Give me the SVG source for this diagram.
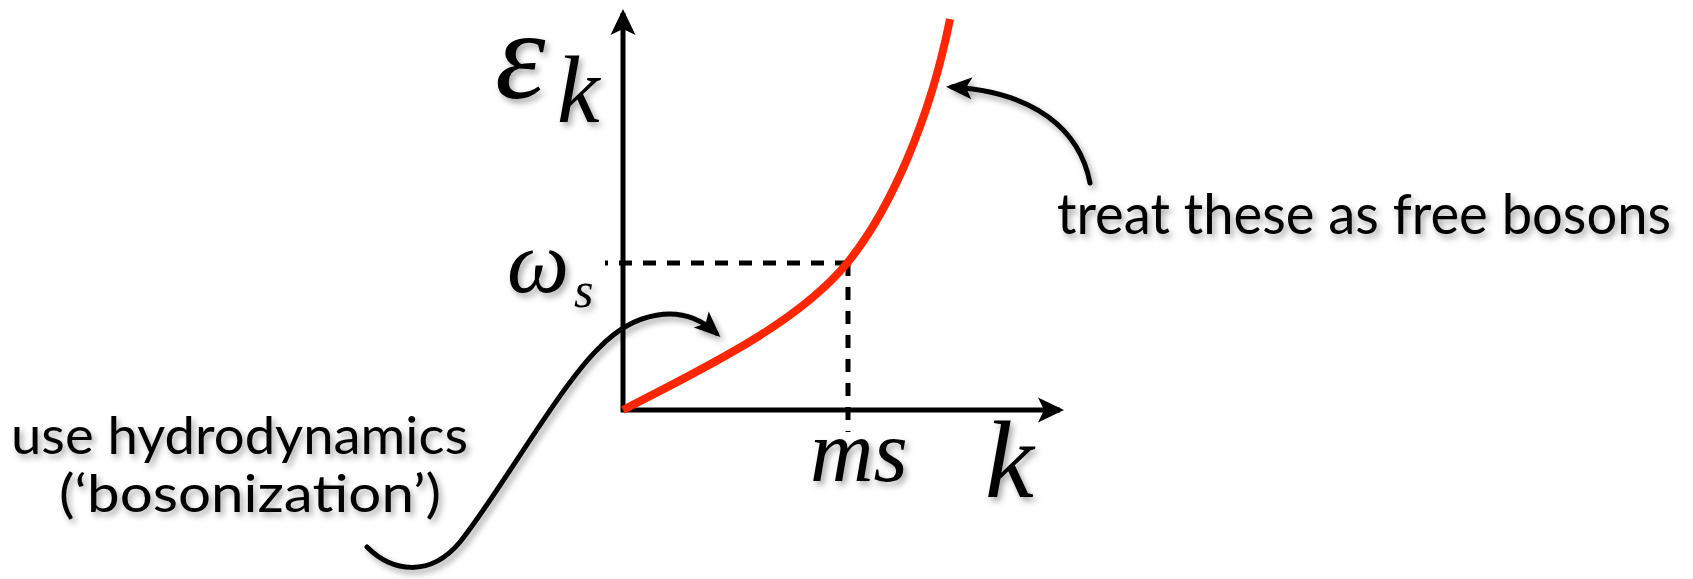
<svg xmlns="http://www.w3.org/2000/svg" width="1693" height="579" viewBox="0 0 1693 579">
<defs>
<filter id="sh" x="-10%" y="-10%" width="130%" height="140%">
<feDropShadow dx="3" dy="4" stdDeviation="3" flood-color="#000" flood-opacity="0.35"/>
</filter>
<marker id="ax" markerUnits="userSpaceOnUse" markerWidth="40" markerHeight="40" viewBox="-30 -20 40 40" refX="0" refY="0" orient="auto-start-reverse" overflow="visible">
<path d="M4,0 L-22,-12.5 L-16,0 L-22,12.5 Z" fill="#000"/>
</marker>
<marker id="ar" markerUnits="userSpaceOnUse" markerWidth="40" markerHeight="40" viewBox="-30 -20 40 40" refX="0" refY="0" orient="auto" overflow="visible">
<path d="M6,0 L-20,-11 L-14,0 L-20,11 Z" fill="#000"/>
</marker>
</defs>
<style>
.ax{fill:none;stroke:#000;stroke-width:5}
.dash{fill:none;stroke:#000;stroke-width:5;stroke-dasharray:13 11}
.cv{fill:none;stroke:#000;stroke-width:5;stroke-linecap:round}
.red{fill:none;stroke:#ff2600;stroke-width:8}
.lbl{font-family:Lato,"Open Sans","Liberation Sans",sans-serif;fill:#000}
.math{font-family:"Liberation Serif","DejaVu Serif",serif;font-style:italic;fill:#000}
</style>
<rect width="1693" height="579" fill="#fff"/>
<g id="axes">
<polyline class="ax" points="623,13 623,410 1060,410" marker-start="url(#ax)" marker-end="url(#ax)"/>
</g>
<g id="guides">
<line class="dash" x1="848" y1="263" x2="605" y2="263"/>
<line class="dash" x1="848" y1="263" x2="848" y2="432"/>
</g>
<g id="dispersion">
<path class="red" d="M623,410 C700,370 798,324 848,262 C890,210 930,120 950,19"/>
</g>
<g id="connectors" filter="url(#sh)">
<path class="cv" d="M367,547 C392,572 430,578 460,542 C500,492 560,385 600,347 C632,314 680,300 716,333" marker-end="url(#ar)"/>
<path class="cv" d="M1090,183 C1080,130 1035,92 952,87" marker-end="url(#ar)"/>
</g>
<g id="label-ek" filter="url(#sh)">
<text class="math" transform="translate(495,98) scale(1.28)" font-size="100">ε</text>
<text class="math" x="557" y="122" font-size="96">k</text>
</g>
<g id="label-ws" filter="url(#sh)">
<text class="math" x="507" y="292" font-size="88">ω</text>
<text class="math" x="574" y="307" font-size="50">s</text>
</g>
<g id="label-ms" filter="url(#sh)">
<text class="math" x="810" y="481" font-size="88">ms</text>
</g>
<g id="label-k" filter="url(#sh)">
<text class="math" x="985" y="497" font-size="110">k</text>
</g>
<g id="label-hydro" filter="url(#sh)">
<text class="lbl" x="11" y="454" font-size="53" textLength="457" lengthAdjust="spacingAndGlyphs">use hydrodynamics</text>
<text class="lbl" x="59" y="512" font-size="53" textLength="382" lengthAdjust="spacingAndGlyphs">(‘bosonization’)</text>
</g>
<g id="label-free" filter="url(#sh)">
<text class="lbl" x="1057" y="234" font-size="57" textLength="614" lengthAdjust="spacingAndGlyphs">treat these as free bosons</text>
</g>
</svg>
